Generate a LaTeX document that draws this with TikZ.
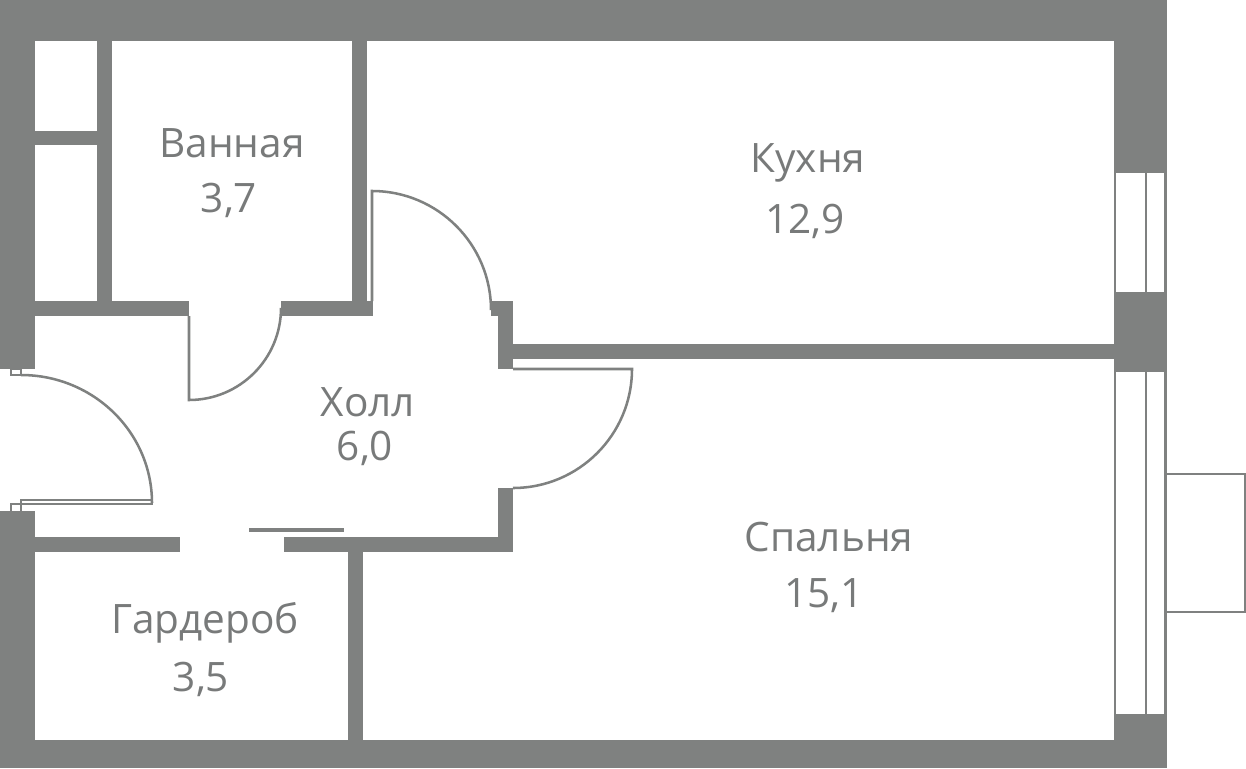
\documentclass[tikz,border=0pt]{standalone}
\usepackage{fontspec}
\setmainfont{Open Sans}
\definecolor{wallgray}{RGB}{127,129,128}
\definecolor{textgray}{RGB}{120,122,122}
\tikzset{
    wall/.style={fill=wallgray, draw=none},
    thin line/.style={draw=wallgray, line width=1.9pt},
    room/.style={text=textgray, font=\fontsize{30.4}{30.4}\selectfont, inner sep=0pt},
}
\begin{document}
\begin{tikzpicture}[x=.75pt, y=-.75pt]
            \useasboundingbox(0,0)rectangle(1246,768);
            % outer walls
            \fill[wall](0,0)rectangle(1167,41);
            \fill[wall](0,0)rectangle(35,369);
            \fill[wall](0,511)rectangle(35,768);
            \fill[wall](0,740)rectangle(1167,768);
            \fill[wall](1114,0)rectangle(1167,173);
            \fill[wall](1114,292)rectangle(1167,372);
            \fill[wall](1114,714)rectangle(1167,768);
            % inner walls
            \fill[wall](97,41)rectangle(112,301);
            \fill[wall](35,131)rectangle(97,145);
            \fill[wall](35,301)rectangle(189,316);
            \fill[wall](281,301)rectangle(373,316);
            \fill[wall](352,41)rectangle(367,301);
            \fill[wall](491,301)rectangle(513,316);
            \fill[wall](498,301)rectangle(513,369);
            \fill[wall](513,344)rectangle(1114,359);
            \fill[wall](498,488)rectangle(513,552);
            \fill[wall](284,537)rectangle(513,552);
            \fill[wall](348,552)rectangle(363,740);
            \fill[wall](35,537)rectangle(180,552);
            \fill[wall](249,528)rectangle(344,532);
            % windows
            \draw[thin line](1115,173)--(1115,292);
            \draw[thin line](1146,173)--(1146,292);
            \draw[thin line](1165.5,173)--(1165.5,292);
            \draw[thin line](1115,372)--(1115,714);
            \draw[thin line](1146,372)--(1146,714);
            \draw[thin line](1165.5,372)--(1165.5,714);
            % balcony
            \draw[thin line](1166,474)--(1245,474)--(1245,612)--(1166,612);
            % doors
            \draw[thin line](189,316)--(189,400)arc(90:0:92)--(281,316);
            \draw[thin line](372,301)--(372,191)arc(-90:0:119);
            \draw[thin line](513,369)--(632,369)arc(0:90:119);
            \draw[thin line](11,369)rectangle(21,375);
            \draw[thin line](21,375)arc(-90:0:131 and 128);
            \draw[thin line](21,500)rectangle(152,504);
            \draw[thin line](11,511)--(11,504)--(21,504)--(21,511);
            % labels
            \node[room](bath name)at(232,143){Ванная};
            \node[room](bath area)at(229,200){3,7};
            \node[room](kitchen name)at(808,163){Кухня};
            \node[room](kitchen area)at(805,221){12,9};
            \node[room](hall name)at(368,402){Холл};
            \node[room](hall area)at(365,448){6,0};
            \node[room](bedroom name)at(829,537){Спальня};
            \node[room](bedroom area)at(824,596){15,1};
            \node[room](wardrobe name)at(205,623){Гардероб};
            \node[room](wardrobe area)at(201,679){3,5};
        \end{tikzpicture}
\end{document}
